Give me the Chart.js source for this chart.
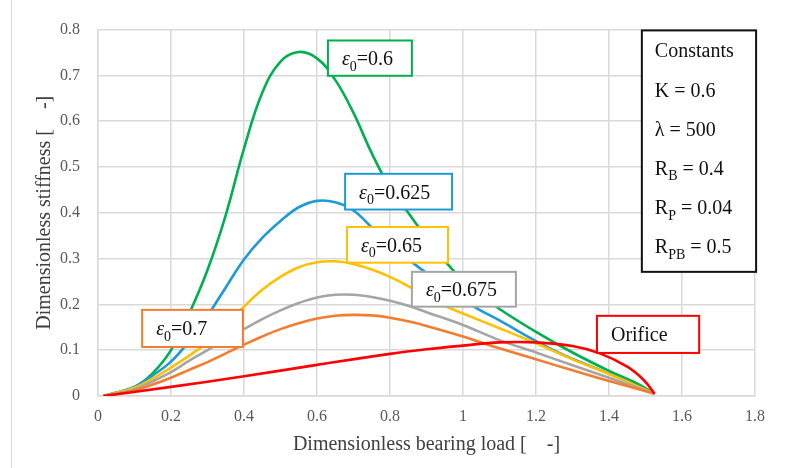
<!DOCTYPE html>
<html>
<head>
<meta charset="utf-8">
<script src="https://cdn.jsdelivr.net/npm/chart.js@4/dist/chart.umd.min.js"></script>
<style>
html,body{margin:0;padding:0;background:#fff;}
#wrap{width:795px;height:468px;position:relative;}
</style>
</head>
<body>
<div id="wrap"><canvas id="c" width="795" height="468"></canvas></div>
<script>
// ---- tick labels ----
const xTickLabels = ['0','0.2','0.4','0.6','0.8','1','1.2','1.4','1.6','1.8'];
const yTickLabels = ['0','0.1','0.2','0.3','0.4','0.5','0.6','0.7','0.8'];

// ---- series names ----
const seriesNames = ['ε0=0.6','ε0=0.625','ε0=0.65','ε0=0.675','ε0=0.7','Orifice'];

// ---- ε0 = 0.6 ----
const load060  = [0.015,0.1,0.15,0.2,0.25,0.3,0.35,0.4,0.45,0.5,0.55,0.6,0.65,0.7,0.75,0.8,0.85,0.9,0.95,1.0,1.05,1.1,1.2,1.3,1.4,1.47,1.525];
const stiff060 = [0,0.02,0.05,0.10,0.18,0.275,0.395,0.54,0.662,0.73,0.751,0.737,0.69,0.618,0.53,0.455,0.40,0.345,0.295,0.252,0.22,0.19,0.14,0.095,0.055,0.03,0.005];

// ---- ε0 = 0.625 ----
const load0625  = [0.015,0.1,0.15,0.2,0.25,0.3,0.35,0.4,0.45,0.5,0.55,0.6,0.65,0.7,0.75,0.8,0.875,0.95,1.03,1.1,1.2,1.28,1.375,1.45,1.525];
const stiff0625 = [0,0.02,0.045,0.075,0.12,0.175,0.237,0.298,0.345,0.382,0.412,0.426,0.423,0.405,0.368,0.33,0.283,0.24,0.195,0.165,0.12,0.088,0.057,0.032,0.005];

// ---- ε0 = 0.65 ----
const load065  = [0.015,0.1,0.15,0.2,0.25,0.3,0.35,0.4,0.45,0.5,0.55,0.6,0.65,0.7,0.75,0.8,0.85,0.9,0.95,1.0,1.1,1.2,1.3,1.4,1.525];
const stiff065 = [0,0.018,0.038,0.062,0.088,0.117,0.155,0.195,0.232,0.26,0.281,0.292,0.294,0.288,0.276,0.26,0.24,0.217,0.197,0.18,0.148,0.115,0.08,0.048,0.005];

// ---- ε0 = 0.675 ----
const load0675  = [0.015,0.1,0.15,0.2,0.25,0.3,0.35,0.4,0.45,0.5,0.55,0.6,0.65,0.7,0.75,0.8,0.85,0.9,1.0,1.1,1.2,1.3,1.4,1.525];
const stiff0675 = [0,0.015,0.032,0.052,0.077,0.1,0.124,0.146,0.168,0.187,0.203,0.215,0.221,0.221,0.216,0.208,0.197,0.183,0.155,0.122,0.095,0.067,0.04,0.005];

// ---- ε0 = 0.7 ----
const load070  = [0.015,0.1,0.15,0.2,0.25,0.3,0.35,0.4,0.45,0.5,0.55,0.6,0.65,0.7,0.75,0.8,0.85,0.9,1.0,1.1,1.2,1.3,1.4,1.525];
const stiff070 = [0,0.012,0.025,0.04,0.057,0.074,0.093,0.112,0.13,0.146,0.159,0.169,0.175,0.177,0.176,0.171,0.163,0.153,0.13,0.104,0.08,0.056,0.033,0.005];

// ---- Orifice ----
const loadOrifice  = [0.015,0.2,0.4,0.6,0.8,0.9,1.0,1.1,1.2,1.3,1.375,1.45,1.495,1.525];
const stiffOrifice = [0,0.02,0.043,0.068,0.092,0.102,0.110,0.117,0.117,0.109,0.093,0.064,0.035,0.005];

// ---- constants text ----
const constantsLines = [
  [{t:'Constants'}],
  [{t:'K = 0.6'}],
  [{t:'λ = 500'}],
  [{t:'R'},{t:'B',sub:true},{t:' = 0.4'}],
  [{t:'R'},{t:'P',sub:true},{t:' = 0.04'}],
  [{t:'R'},{t:'PB',sub:true},{t:' = 0.5'}]
];

const colors = ['#00b050','#1e9ad6','#ffc000','#a5a5a5','#f47c30','#ff0000'];

function pts(xs, ys){ return xs.map((x,i)=>({x:x,y:ys[i]})); }

const loads = [load060,load0625,load065,load0675,load070,loadOrifice];
const stiffs = [stiff060,stiff0625,stiff065,stiff0675,stiff070,stiffOrifice];

const datasets = seriesNames.map((n,i)=>({
  label:n,
  data: pts(loads[i], stiffs[i]),
  borderColor: colors[i],
  backgroundColor: colors[i],
  borderWidth: 2.6,
  pointRadius: 0,
  fill:false,
  tension:0.4,
  order: 6 - i
}));

// label boxes anchored in data coordinates
const labelBoxes = [
  {c:0, x0:0.630, x1:0.860, yTop:0.776, yBot:0.699, parts:[{t:'ε',it:true},{t:'0',sub:true},{t:'=0.6'}]},
  {c:1, x0:0.677, x1:0.970, yTop:0.485, yBot:0.407, parts:[{t:'ε',it:true},{t:'0',sub:true},{t:'=0.625'}]},
  {c:2, x0:0.682, x1:0.959, yTop:0.369, yBot:0.291, parts:[{t:'ε',it:true},{t:'0',sub:true},{t:'=0.65'}]},
  {c:3, x0:0.860, x1:1.145, yTop:0.271, yBot:0.195, parts:[{t:'ε',it:true},{t:'0',sub:true},{t:'=0.675'}]},
  {c:4, x0:0.121, x1:0.397, yTop:0.188, yBot:0.107, parts:[{t:'ε',it:true},{t:'0',sub:true},{t:'=0.7'}]},
  {c:5, x0:1.367, x1:1.647, yTop:0.175, yBot:0.094, parts:[{t:'Orifice'}]}
];
const constantsBox = {x0:1.490, x1:1.803, yTop:0.798, yBot:0.271};

const FONT = '"Liberation Serif", "Times New Roman", serif';

function drawRich(ctx, parts, x, y, size){
  let cx = x;
  for (const p of parts){
    const fs = p.sub ? Math.round(size*0.68) : size;
    ctx.font = (p.it ? 'italic ' : '') + fs + 'px ' + FONT;
    const dy = p.sub ? size*0.27 : 0;
    ctx.fillText(p.t, cx, y + dy);
    cx += ctx.measureText(p.t).width;
  }
}

const annotPlugin = {
  id:'annot',
  beforeDraw(chart){
    const ctx = chart.ctx;
    ctx.save();
    ctx.fillStyle = '#ffffff';
    ctx.fillRect(0,0,chart.width,chart.height);
    ctx.strokeStyle = '#d9d9d9';
    ctx.lineWidth = 1;
    ctx.strokeRect(11.5,-2,800,480);
    ctx.restore();
  },
  afterDatasetsDraw(chart){
    const ctx = chart.ctx;
    const xs = chart.scales.x, ys = chart.scales.y;
    ctx.save();
    ctx.textBaseline = 'alphabetic';
    ctx.textAlign = 'left';
    for (const b of labelBoxes){
      const l = xs.getPixelForValue(b.x0), r = xs.getPixelForValue(b.x1);
      const t = ys.getPixelForValue(b.yTop), bt = ys.getPixelForValue(b.yBot);
      ctx.fillStyle = '#ffffff';
      ctx.fillRect(l,t,r-l,bt-t);
      ctx.strokeStyle = colors[b.c];
      ctx.lineWidth = 2;
      ctx.strokeRect(l,t,r-l,bt-t);
      ctx.fillStyle = '#111111';
      drawRich(ctx, b.parts, l + 14, (t+bt)/2 + 7, 20);
    }
    // constants box
    const l = xs.getPixelForValue(constantsBox.x0), r = xs.getPixelForValue(constantsBox.x1);
    const t = ys.getPixelForValue(constantsBox.yTop), bt = ys.getPixelForValue(constantsBox.yBot);
    ctx.fillStyle = '#ffffff';
    ctx.fillRect(l,t,r-l,bt-t);
    ctx.strokeStyle = '#111111';
    ctx.lineWidth = 2;
    ctx.strokeRect(l,t,r-l,bt-t);
    ctx.fillStyle = '#111111';
    constantsLines.forEach((line,i)=>{
      drawRich(ctx, line, l + 13, t + 27 + 39.2*i, 20);
    });
    ctx.restore();
  }
};

new Chart(document.getElementById('c'), {
  type:'line',
  data:{datasets:datasets},
  options:{
    responsive:false,
    animation:false,
    devicePixelRatio:1,
    layout:{padding:{top:29.5,right:40,left:0,bottom:0}},
    plugins:{legend:{display:false},tooltip:{enabled:false},title:{display:false}},
    scales:{
      x:{
        type:'linear', min:0, max:1.8,
        afterFit(s){ s.height = 72; },
        afterBuildTicks(s){ s.ticks = xTickLabels.map(v=>({value:parseFloat(v)})); },
        ticks:{ callback:(v,i)=>xTickLabels[i], color:'#595959', font:{family:FONT,size:16}, padding:11, maxRotation:0, autoSkip:false },
        grid:{ color:'#d9d9d9', lineWidth:1.5, drawTicks:false },
        border:{ color:'#d9d9d9', width:1.5 },
        title:{ display:true, text:'Dimensionless bearing load [    -]', color:'#404040', font:{family:FONT,size:20}, padding:{top:0,bottom:11} }
      },
      y:{
        type:'linear', min:0, max:0.8,
        afterFit(s){ s.width = 98; },
        afterBuildTicks(s){ s.ticks = yTickLabels.map(v=>({value:parseFloat(v)})); },
        ticks:{ callback:(v,i)=>yTickLabels[i], color:'#595959', font:{family:FONT,size:16}, padding:18, autoSkip:false },
        grid:{ color:'#d9d9d9', lineWidth:1.5, drawTicks:false },
        border:{ color:'#d9d9d9', width:1.5 },
        title:{ display:true, text:'Dimensionless stiffness [    -]', color:'#404040', font:{family:FONT,size:20}, padding:{top:33,bottom:0} }
      }
    }
  },
  plugins:[annotPlugin]
});
</script>
</body>
</html>
